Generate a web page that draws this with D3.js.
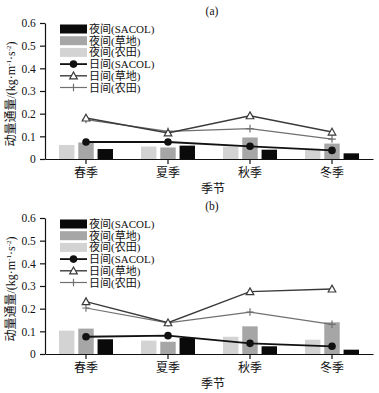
<!DOCTYPE html>
<html><head><meta charset="utf-8">
<script src="https://cdn.jsdelivr.net/npm/d3@7"></script>
<style>
body{margin:0;background:#fff;}
svg{display:block;}
text{font-family:"Liberation Serif","Times New Roman","Noto Sans CJK SC",serif;fill:#111;}
</style></head><body>
<svg id="c" width="379" height="393"></svg>
<script>
const seasons = ["春季","夏季","秋季","冬季"];
const yTicks = [0,0.1,0.2,0.3,0.4,0.5,0.6];
const yTickLabels = ["0","0.1","0.2","0.3","0.4","0.5","0.6"];
const barNames = ["夜间(农田)","夜间(草地)","夜间(SACOL)"];
const lineNames = ["日间(SACOL)","日间(草地)","日间(农田)"];
const legendOrder = ["夜间(SACOL)","夜间(草地)","夜间(农田)","日间(SACOL)","日间(草地)","日间(农田)"];
const panelTitles = ["(a)","(b)"];
const xTitle = "季节";

// Panel (a)
const aNightFarm  = [0.062,0.055,0.055,0.045];
const aNightGrass = [0.073,0.051,0.095,0.068];
const aNightSacol = [0.044,0.059,0.041,0.025];
const aDaySacol   = [0.075,0.075,0.056,0.038];
const aDayGrass   = [0.181,0.115,0.191,0.119];
const aDayFarm    = [0.174,0.122,0.134,0.088];
// Panel (b)
const bNightFarm  = [0.103,0.059,0.076,0.063];
const bNightGrass = [0.112,0.054,0.122,0.140];
const bNightSacol = [0.065,0.071,0.034,0.019];
const bDaySacol   = [0.076,0.081,0.047,0.034];
const bDayGrass   = [0.231,0.138,0.275,0.287];
const bDayFarm    = [0.203,0.137,0.185,0.131];

const panels = [
  {title:panelTitles[0], bars:[aNightFarm,aNightGrass,aNightSacol], lines:[aDaySacol,aDayGrass,aDayFarm], top:0},
  {title:panelTitles[1], bars:[bNightFarm,bNightGrass,bNightSacol], lines:[bDaySacol,bDayGrass,bDayFarm], top:195}
];

const barColors = {"夜间(农田)":"#d3d3d3","夜间(草地)":"#a6a6a6","夜间(SACOL)":"#0a0a0a"};
const lineStyles = {
  "日间(SACOL)":{color:"#111",width:1.8,marker:"circle"},
  "日间(草地)":{color:"#3a3a3a",width:1.4,marker:"triangle"},
  "日间(农田)":{color:"#707070",width:1.2,marker:"plus"}
};

const svg = d3.select("#c");
const L = 45, R = 373, Y0 = 159, Y1 = 23;
const x = d3.scaleBand().domain(seasons).range([L,R]);
const y = d3.scaleLinear().domain([0,0.6]).range([Y0,Y1]);
const bx = d3.scaleBand().domain(barNames).range([-27,27]).paddingInner(0.2);

function drawMarker(g, type, cx, cy, st){
  if(type==="circle"){
    g.append("circle").attr("cx",cx).attr("cy",cy).attr("r",3.8).attr("fill",st.color);
  } else if(type==="triangle"){
    const s=3.8;
    g.append("path").attr("d",`M${cx},${cy-s}L${cx+s},${cy+s*0.8}L${cx-s},${cy+s*0.8}Z`)
      .attr("fill","#fff").attr("stroke",st.color).attr("stroke-width",1.2);
  } else {
    const s=3.8;
    g.append("path").attr("d",`M${cx-s},${cy}H${cx+s}M${cx},${cy-s}V${cy+s}`)
      .attr("stroke",st.color).attr("stroke-width",1.2);
  }
}

panels.forEach(p=>{
  const g = svg.append("g").attr("transform",`translate(0,${p.top})`);
  // bars
  p.bars.forEach((arr,i)=>{
    const name = barNames[i];
    g.selectAll(null).data(arr).enter().append("rect")
      .attr("x",(d,j)=>x(seasons[j])+x.bandwidth()/2+bx(name))
      .attr("width",bx.bandwidth())
      .attr("y",d=>y(d)).attr("height",d=>y(0)-y(d))
      .attr("fill",barColors[name]);
  });
  // lines
  [2,1,0].forEach(i=>{
    const name = lineNames[i], st = lineStyles[name], arr = p.lines[i];
    const line = d3.line().x((d,j)=>x(seasons[j])+x.bandwidth()/2).y(d=>y(d));
    g.append("path").datum(arr).attr("d",line).attr("fill","none")
      .attr("stroke",st.color).attr("stroke-width",st.width);
    arr.forEach((d,j)=>drawMarker(g, st.marker, x(seasons[j])+x.bandwidth()/2, y(d), st));
  });
  // axes
  const ya = d3.axisLeft(y).tickValues(yTicks).tickFormat((d,i)=>yTickLabels[i]).tickSize(5).tickSizeOuter(0);
  const yg = g.append("g").attr("transform",`translate(${L},0)`).call(ya);
  yg.selectAll("text").attr("font-size",11.5).attr("dx","-0.1em").attr("font-family","Liberation Serif");
  const xa = d3.axisBottom(x).tickSize(5).tickSizeOuter(0);
  const xg = g.append("g").attr("transform",`translate(0,${Y0})`).call(xa);
  xg.selectAll("text").attr("font-size",12).attr("dy","0.85em").attr("font-family","Noto Sans CJK SC");
  g.selectAll(".domain, .tick line").attr("stroke","#111").attr("stroke-width",1.2);
  // titles
  g.append("text").attr("x",212).attr("y",15).attr("text-anchor","middle").attr("font-size",11.5).text(p.title);
  g.append("text").attr("x",213).attr("y",193).attr("text-anchor","middle").attr("font-size",12)
    .attr("font-family","Noto Sans CJK SC").text(xTitle);
  const yl = g.append("text").attr("transform","translate(15,94) rotate(-90)").attr("text-anchor","middle").attr("font-size",12);
  yl.append("tspan").text("动量通量/(kg·m");
  yl.append("tspan").attr("font-size",7).attr("dy",-4).text("-1");
  yl.append("tspan").attr("dy",4).text("·s");
  yl.append("tspan").attr("font-size",7).attr("dy",-4).text("-2");
  yl.append("tspan").attr("dy",4).text(")");
  // legend
  legendOrder.forEach((name,i)=>{
    const ly = 29 + i*11.7;
    if(barColors[name]){
      g.append("rect").attr("x",60).attr("y",ly-4.5).attr("width",27).attr("height",9).attr("fill",barColors[name]);
    } else {
      const st = lineStyles[name];
      g.append("line").attr("x1",60).attr("x2",87).attr("y1",ly).attr("y2",ly).attr("stroke",st.color).attr("stroke-width",st.width);
      drawMarker(g, st.marker, 73.5, ly, st);
    }
    g.append("text").attr("x",89).attr("y",ly+4).attr("font-size",11).text(name);
  });
});
</script></body></html>
